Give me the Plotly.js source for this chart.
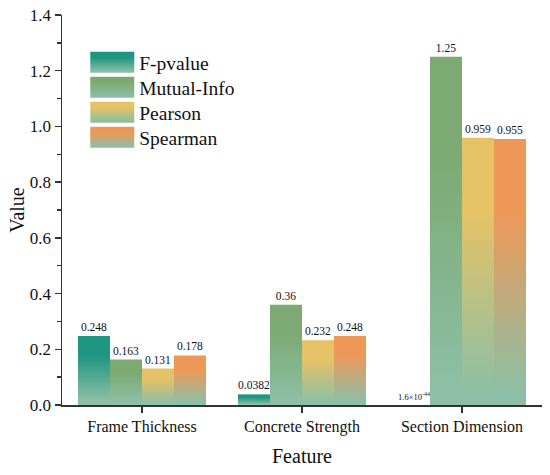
<!DOCTYPE html>
<html><head><meta charset="utf-8">
<script src="https://cdn.plot.ly/plotly-3.0.1.min.js"></script>
<style>html,body{margin:0;padding:0;background:#fff}</style>
</head><body>
<div id="chart" style="width:550px;height:475px"></div>
<script>
const categories = ['Frame Thickness', 'Concrete Strength', 'Section Dimension'];
const seriesNames = ['F-pvalue', 'Mutual-Info', 'Pearson', 'Spearman'];
const fpvalue = [0.248, 0.0382, 1.6e-44];
const mutualInfo = [0.163, 0.36, 1.25];
const pearson = [0.131, 0.232, 0.959];
const spearman = [0.178, 0.248, 0.955];
const fpvalueLabels = ['0.248', '0.0382', '1.6×10<sup>-44</sup>'];
const mutualInfoLabels = ['0.163', '0.36', '1.25'];
const pearsonLabels = ['0.131', '0.232', '0.959'];
const spearmanLabels = ['0.178', '0.248', '0.955'];
const yTickVals = [0, 0.2, 0.4, 0.6, 0.8, 1.0, 1.2, 1.4];
const yTickText = ['0.0', '0.2', '0.4', '0.6', '0.8', '1.0', '1.2', '1.4'];

const topColors = ['#1e9682', '#7daa72', '#e6c266', '#ee9858'];
const bottomColor = '#8cbfa5';
const FONT = 'Liberation Serif, Times New Roman, serif';

const values = [fpvalue, mutualInfo, pearson, spearman];
const labels = [fpvalueLabels, mutualInfoLabels, pearsonLabels, spearmanLabels];

const data = seriesNames.map((name, i) => ({
  type: 'bar',
  name: name,
  x: categories,
  y: values[i],
  text: labels[i],
  textposition: 'outside',
  cliponaxis: false,
  textfont: {family: FONT, size: i === 0 ? [11.5, 11.5, 8.5] : 11.5, color: '#111'},
  marker: {color: topColors[i], line: {width: 0}},
  hoverinfo: 'skip'
}));

const axisCommon = {
  showline: true, linecolor: '#333', linewidth: 1.5,
  ticks: 'outside', ticklen: 6, tickwidth: 1.5, tickcolor: '#333',
  showgrid: false, zeroline: false,
  tickfont: {family: FONT, size: 16, color: '#111'}
};

const layout = {
  width: 550, height: 475,
  margin: {l: 62, r: 8, t: 15, b: 70},
  paper_bgcolor: '#fff', plot_bgcolor: '#fff',
  font: {family: FONT, color: '#111'},
  barmode: 'group', bargap: 0.2, bargroupgap: 0,
  showlegend: true,
  legend: {
    x: 0.036, y: 0.928, xanchor: 'left', yanchor: 'top',
    bgcolor: 'rgba(0,0,0,0)', borderwidth: 0,
    font: {family: FONT, size: 19.5, color: '#111'},
    itemwidth: 50, tracegroupgap: 0
  },
  xaxis: Object.assign({}, axisCommon, {
    range: [-0.5, 2.5],
    title: {text: 'Feature', font: {family: FONT, size: 20, color: '#111'}, standoff: 14}
  }),
  yaxis: Object.assign({}, axisCommon, {
    range: [0, 1.4],
    tickvals: yTickVals, ticktext: yTickText,
    tickfont: {family: FONT, size: 17, color: '#111'},
    minor: {ticks: 'outside', dtick: 0.1, ticklen: 4, tickwidth: 1.5, tickcolor: '#333'},
    title: {text: 'Value', font: {family: FONT, size: 20, color: '#111'}, standoff: 0}
  })
};

function applyGradients() {
  const gd = document.getElementById('chart');
  const svg = gd.querySelector('.main-svg');
  let defs = svg.querySelector('defs');
  if (!defs) { defs = document.createElementNS('http://www.w3.org/2000/svg', 'defs'); svg.insertBefore(defs, svg.firstChild); }
  topColors.forEach((c, i) => {
    if (document.getElementById('barGrad' + i)) return;
    const g = document.createElementNS('http://www.w3.org/2000/svg', 'linearGradient');
    g.setAttribute('id', 'barGrad' + i);
    g.setAttribute('x1', '0'); g.setAttribute('y1', '0');
    g.setAttribute('x2', '0'); g.setAttribute('y2', '1');
    [[0, c], [0.28, c], [0.95, bottomColor], [1, bottomColor]].forEach(([o, col]) => {
      const s = document.createElementNS('http://www.w3.org/2000/svg', 'stop');
      s.setAttribute('offset', o); s.setAttribute('stop-color', col);
      g.appendChild(s);
    });
    defs.appendChild(g);
  });
  gd.querySelectorAll('.barlayer .trace').forEach((tr, i) => {
    tr.querySelectorAll('.point path').forEach(p => { p.style.fill = 'url(#barGrad' + i + ')'; });
  });
  let y0 = null;
  gd.querySelectorAll('.legend .traces').forEach((tr, i) => {
    const m = /translate\(([-\d.]+)[ ,]+([-\d.]+)\)/.exec(tr.getAttribute('transform') || '');
    if (m) {
      if (y0 === null) y0 = parseFloat(m[2]);
      tr.setAttribute('transform', 'translate(' + m[1] + ',' + (y0 + i * 25) + ')');
    }
    tr.querySelectorAll('.legendpoints path').forEach(p => {
      p.setAttribute('d', 'M-19,-10.5H25V10.5H-19Z');
      p.style.fill = 'url(#barGrad' + i + ')';
      p.style.stroke = 'none';
    });
  });
}

Plotly.newPlot('chart', data, layout, {staticPlot: true, displayModeBar: false}).then(applyGradients);
</script>
</body></html>
